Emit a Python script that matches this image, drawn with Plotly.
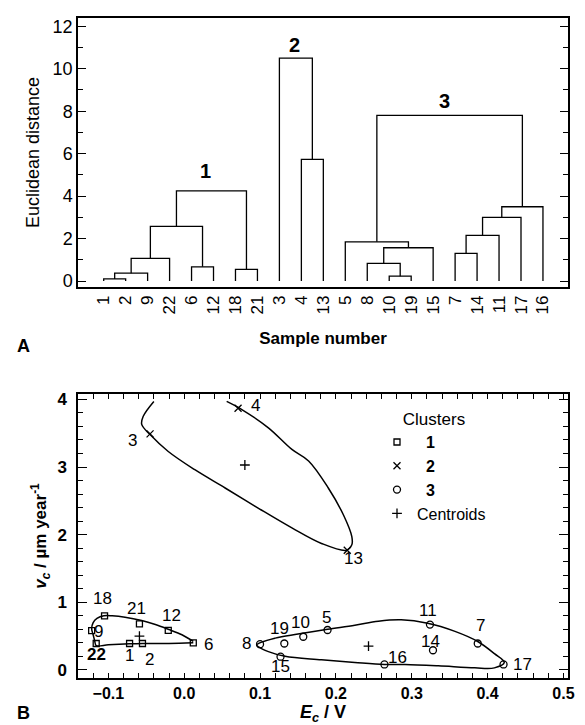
import plotly.graph_objects as go

# ---------------- Panel A: dendrogram data ----------------
leaf_order = ["1", "2", "9", "22", "6", "12", "18", "21", "3", "4", "13",
              "5", "8", "10", "19", "15", "7", "14", "11", "17", "16"]
# merges m1..m18 (children are leaf labels or earlier merge ids)
merge_left = ["1", "m1", "m2", "6", "m3", "18", "m5", "4", "3",
              "10", "8", "m11", "5", "7", "m14", "m15", "m16", "m13"]
merge_right = ["2", "9", "22", "12", "m4", "21", "m6", "13", "m8",
               "19", "m10", "15", "m12", "14", "11", "17", "16", "m17"]
merge_height = [0.1, 0.37, 1.07, 0.67, 2.58, 0.55, 4.25, 5.73, 10.5,
                0.23, 0.83, 1.57, 1.85, 1.3, 2.15, 3.0, 3.5, 7.8]
cluster_names = ["1", "2", "3"]
cluster_nodes = ["m7", "m9", "m18"]

# ---------------- Panel B: scatter data ----------------
c1_ids = ["18", "21", "12", "6", "9", "22", "1", "2"]
c1_E = [-0.105, -0.059, -0.021, 0.012, -0.122, -0.116, -0.072, -0.055]
c1_v = [0.80, 0.68, 0.585, 0.40, 0.58, 0.39, 0.39, 0.39]

c2_ids = ["3", "4", "13"]
c2_E = [-0.045, 0.071, 0.215]
c2_v = [3.49, 3.87, 1.77]

c3_ids = ["8", "19", "10", "15", "5", "11", "7", "14", "16", "17"]
c3_E = [0.100, 0.132, 0.157, 0.127, 0.189, 0.324, 0.387, 0.328, 0.264, 0.421]
c3_v = [0.38, 0.39, 0.49, 0.195, 0.59, 0.67, 0.39, 0.29, 0.08, 0.08]

cent_E = [-0.059, 0.080, 0.243]
cent_v = [0.50, 3.03, 0.35]

# confidence-region outlines
curve1_E = [0.012, -0.003, -0.021, -0.038, -0.056, -0.078, -0.095, -0.106, -0.115,
            -0.120, -0.122, -0.120, -0.118, -0.116, -0.100, -0.072, -0.055, -0.020, 0.012]
curve1_v = [0.42, 0.52, 0.60, 0.67, 0.73, 0.78, 0.80, 0.80, 0.76,
            0.70, 0.61, 0.52, 0.43, 0.36, 0.37, 0.385, 0.39, 0.39, 0.40]
curve2_E = [-0.040, -0.054, -0.056, -0.045, -0.021, 0.014, 0.054, 0.098, 0.142, 0.181,
            0.214, 0.221, 0.221, 0.210, 0.190, 0.164, 0.142, 0.111, 0.076, 0.056]
curve2_v = [3.97, 3.75, 3.63, 3.48, 3.23, 2.96, 2.69, 2.39, 2.10, 1.87,
            1.77, 1.85, 1.97, 2.29, 2.69, 3.09, 3.26, 3.58, 3.85, 3.97]
curve3_E = [0.0955, 0.120, 0.150, 0.189, 0.225, 0.256, 0.286, 0.321, 0.357, 0.387, 0.409,
            0.422, 0.409, 0.383, 0.335, 0.291, 0.264, 0.225, 0.181, 0.133, 0.111, 0.098, 0.0955]
curve3_v = [0.37, 0.47, 0.53, 0.60, 0.66, 0.72, 0.74, 0.69, 0.57, 0.42, 0.24,
            0.11, 0.03, 0.03, 0.06, 0.08, 0.08, 0.11, 0.15, 0.20, 0.27, 0.34, 0.37]

# label placement offsets in pixels (xshift, yshift)
label_offsets = {
    "18": (-2, 17), "21": (-3, 15), "12": (3, 15), "6": (15, -2), "9": (7, -1),
    "22": (0, -11), "1": (0, -12), "2": (7, -16),
    "3": (-18, -7), "4": (17, 3), "13": (6, -8),
    "8": (-14, 1), "19": (-5, 15), "10": (-3, 14), "15": (0, -10), "5": (-1, 12),
    "11": (-2, 14), "7": (3, 18), "14": (-2, 9), "16": (13, 7), "17": (19, 0),
}
cluster_label_shift = [(-6, 20), (-1, 13), (-5, 14)]

FONT = "Liberation Sans, Arial, sans-serif"

# plot-area geometry (pixels)
L, R, T, B = 70, 25, 10, 55
W = 585 - L - R
H = 725 - T - B
TOP_DOMAIN = [0.5924, 1.0]
BOT_DOMAIN = [0.0, 0.4303]


def px_to_paper(px, py):
    return (px - L) / W, (725 - B - py) / H


# ---------------- build dendrogram segments ----------------
pos = {lab: float(i) for i, lab in enumerate(leaf_order)}
hgt = {lab: 0.0 for lab in leaf_order}
dx, dy = [], []
for k, (a, b, h) in enumerate(zip(merge_left, merge_right, merge_height)):
    mid = f"m{k + 1}"
    xa, xb = pos[a], pos[b]
    dx += [xa, xa, xb, xb, None]
    dy += [hgt[a], h, h, hgt[b], None]
    pos[mid] = (xa + xb) / 2
    hgt[mid] = h

fig = go.Figure()
fig.add_trace(go.Scatter(x=dx, y=dy, mode="lines", line=dict(color="black", width=1.3),
                         showlegend=False, hoverinfo="skip", xaxis="x", yaxis="y"))

# ---------------- panel B traces ----------------
for cx, cy in [(curve1_E, curve1_v), (curve2_E, curve2_v), (curve3_E, curve3_v)]:
    fig.add_trace(go.Scatter(x=cx, y=cy, mode="lines",
                             line=dict(color="black", width=1.5, shape="spline", smoothing=1.0),
                             showlegend=False, hoverinfo="skip", xaxis="x2", yaxis="y2"))

nb = "\u00a0\u00a0"
fig.add_trace(go.Scatter(x=c1_E, y=c1_v, mode="markers", name=nb + "<b>1</b>",
                         marker=dict(symbol="square-open", size=6, color="black",
                                     line=dict(width=1.3, color="black")),
                         xaxis="x2", yaxis="y2"))
fig.add_trace(go.Scatter(x=c2_E, y=c2_v, mode="markers", name=nb + "<b>2</b>",
                         marker=dict(symbol="x-thin-open", size=7, color="black",
                                     line=dict(width=1.3, color="black")),
                         xaxis="x2", yaxis="y2"))
fig.add_trace(go.Scatter(x=c3_E, y=c3_v, mode="markers", name=nb + "<b>3</b>",
                         marker=dict(symbol="circle-open", size=7, color="black",
                                     line=dict(width=1.3, color="black")),
                         xaxis="x2", yaxis="y2"))
fig.add_trace(go.Scatter(x=cent_E, y=cent_v, mode="markers", name="Centroids",
                         marker=dict(symbol="cross-thin-open", size=7, color="black",
                                     line=dict(width=1.3, color="black")),
                         xaxis="x2", yaxis="y2"))

annotations = []
# cluster numbers on the dendrogram
for name, node, (sx, sy) in zip(cluster_names, cluster_nodes, cluster_label_shift):
    annotations.append(dict(x=pos[node], y=hgt[node], xref="x", yref="y", text=f"<b>{name}</b>",
                            showarrow=False, xshift=sx, yshift=sy, yanchor="middle",
                            font=dict(family=FONT, size=20, color="black")))
# point labels
for ids, es, vs in [(c1_ids, c1_E, c1_v), (c2_ids, c2_E, c2_v), (c3_ids, c3_E, c3_v)]:
    for lab, e, v in zip(ids, es, vs):
        sx, sy = label_offsets[lab]
        txt = f"<b>{lab}</b>" if lab == "22" else lab
        annotations.append(dict(x=e, y=v, xref="x2", yref="y2", text=txt, showarrow=False,
                                xshift=sx, yshift=sy, xanchor="center", yanchor="middle",
                                font=dict(family=FONT, size=17, color="black")))
# panel letters
for letter, (lx, ly) in [("A", (15, 338)), ("B", (15, 705))]:
    ax_, ay_ = px_to_paper(lx, ly)
    annotations.append(dict(x=ax_, y=ay_, xref="paper", yref="paper", text=f"<b>{letter}</b>",
                            showarrow=False, xanchor="center", yanchor="middle",
                            font=dict(family=FONT, size=18, color="black")))

axis_common = dict(showline=True, linecolor="black", linewidth=1.5, mirror="ticks",
                   showgrid=False, zeroline=False, tickcolor="black", tickwidth=1.2)

lgx, lgy = px_to_paper(369, 395)

fig.update_layout(
    width=585, height=725,
    margin=dict(l=L, r=R, t=T, b=B, autoexpand=False),
    paper_bgcolor="white", plot_bgcolor="white",
    font=dict(family=FONT, size=17, color="black"),
    xaxis=dict(domain=[0, 1], anchor="y", range=[-1.17, 21.14],
               tickmode="array", tickvals=list(range(len(leaf_order))), ticktext=leaf_order,
               tickangle=-90, ticks="", tickfont=dict(size=17),
               title=dict(text="<b>Sample number</b>", font=dict(size=17), standoff=19),
               **axis_common),
    yaxis=dict(domain=TOP_DOMAIN, anchor="x", range=[-0.28, 12.39],
               tick0=0, dtick=2, ticks="inside", ticklen=8, tickfont=dict(size=18),
               minor=dict(dtick=1, ticks="inside", ticklen=5, tickcolor="black"),
               title=dict(text="Euclidean distance", font=dict(size=18), standoff=8),
               **axis_common),
    xaxis2=dict(domain=[0, 1], anchor="y2", range=[-0.14, 0.506],
                tick0=0, dtick=0.1, tickformat=".1f", ticks="inside", ticklen=5,
                tickfont=dict(size=16),
                minor=dict(dtick=0.02, ticks="inside", ticklen=5, tickcolor="black"),
                title=dict(text="<b><i>E</i><sub><i>c</i></sub> / V</b>", font=dict(size=18), standoff=1),
                **axis_common),
    yaxis2=dict(domain=BOT_DOMAIN, anchor="x2", range=[-0.12, 4.08],
                tick0=0, dtick=1, ticks="inside", ticklen=9, ticklabelstandoff=6,
                tickfont=dict(size=17),
                minor=dict(dtick=0.2, ticks="inside", ticklen=5, tickcolor="black"),
                title=dict(text="<b><i>v</i><sub><i>c</i></sub> / µm year<sup>-1</sup></b>",
                           font=dict(size=17), standoff=6),
                **axis_common),
    legend=dict(x=lgx, y=lgy, xref="paper", yref="paper",
                xanchor="left", yanchor="top", bgcolor="rgba(0,0,0,0)",
                font=dict(family=FONT, size=16, color="black"),
                title=dict(text="Clusters", side="top center", font=dict(size=17)),
                itemclick=False),
    annotations=annotations,
)

# bold tick labels for panel B
fig.update_xaxes(tickprefix="<b>", ticksuffix="</b>", selector=dict(anchor="y2"))
fig.update_yaxes(tickprefix="<b>", ticksuffix="</b>", selector=dict(anchor="x2"))

fig.write_html("out.html")
